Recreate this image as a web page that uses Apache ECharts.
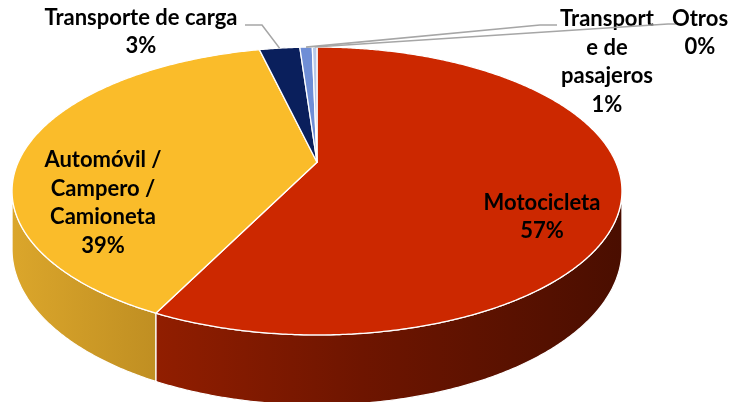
<!DOCTYPE html>
<html><head><meta charset="utf-8">
<script src="https://cdn.jsdelivr.net/npm/echarts@6/dist/echarts.min.js"></script>
<style>html,body{margin:0;padding:0;background:#fff}#c{width:734px;height:402px}</style>
</head><body><div id="c"></div>
<script>
// ---- data ----
const categories = ['Motocicleta', 'Automóvil / Campero / Camioneta', 'Transporte de carga', 'Transporte de pasajeros', 'Otros'];
const labelTexts = ['Motocicleta', 'Automóvil /\nCampero /\nCamioneta', 'Transporte de carga', 'Transport\ne de\npasajeros', 'Otros'];
const values = [57.3, 39.0, 2.6, 0.8, 0.3];

// ---- style / layout ----
const topColors = ['#CC2800', '#FABC2A', '#0A1F5C', '#6F8ED6', '#B7C8E8'];
const sideColors = [
  [[0, '#921E00'], [0.45, '#6E1500'], [1, '#4A0E00']],
  [[0, '#DBA62B'], [1, '#BF8E22']],
  [[0, '#081848'], [1, '#081848']],
  [[0, '#56709F'], [1, '#56709F']],
  [[0, '#8FA0BF'], [1, '#8FA0BF']]
];
const sideGrad = [[150, 622], [12, 160], [0, 734], [0, 734], [0, 734]];
// perspective ellipse: centre, radii, perspective factor k, wall height h
const G = { cx: 317, cy: 162.2, rx: 298.8, ry: 138.2, k: 0.2, h: 56 };
const FONT = 'Lato, "Open Sans", sans-serif';
const labelLayout = [
  { x: 542, y: 217, inside: true },
  { x: 103, y: 203, inside: true },
  { x: 141, y: 32, elbow: [[262, 25], [245, 25]] },
  { x: 607, y: 62, elbow: [[540, 25], [557, 25]] },
  { x: 700, y: 33, elbow: [[668, 24], [676, 24]] }
];

const total = values.reduce((a, b) => a + b, 0);
const starts = []; let acc = 0;
values.forEach(v => { starts.push(acc / total * Math.PI * 2); acc += v; });
const ends = values.map((v, i) => starts[i] + v / total * Math.PI * 2);
const pct = values.map(v => Math.round(v / total * 100) + '%');

function pt(t, down) {
  const u = Math.sin(t), v = Math.cos(t), s = 1 / (1 + G.k * v);
  return [G.cx + G.rx * u * s, G.cy - G.ry * v * s + (down ? G.h * s : 0)];
}
function arc(a0, a1, down) {
  const n = Math.max(2, Math.ceil(Math.abs(a1 - a0) / 0.008));
  const out = [];
  for (let k = 0; k <= n; k++) out.push(pt(a0 + (a1 - a0) * k / n, down));
  return out;
}
const silA = Math.acos(-G.k), silB = Math.PI * 2 - silA;

const chart = echarts.init(document.getElementById('c'), null, { renderer: 'canvas' });
const dataIdx = values.map((v, i) => ({ name: categories[i], value: v }));

function sideItem(params) {
  const i = params.dataIndex;
  const s = Math.max(starts[i], silA), e = Math.min(ends[i], silB);
  if (e <= s) return null;
  const top = arc(s, e, false), bot = arc(e, s, true);
  return {
    type: 'polygon', shape: { points: top.concat(bot) },
    style: {
      fill: { type: 'linear', x: sideGrad[i][0], y: 0, x2: sideGrad[i][1], y2: 0, global: true,
        colorStops: sideColors[i].map(c => ({ offset: c[0], color: c[1] })) },
      stroke: '#ffffff', lineWidth: 1.2
    }
  };
}
function topItem(params) {
  const i = params.dataIndex;
  const pts = [[G.cx, G.cy]].concat(arc(starts[i], ends[i], false));
  return {
    type: 'polygon', shape: { points: pts },
    style: { fill: topColors[i], stroke: '#ffffff', lineWidth: 1.3, lineJoin: 'round' }
  };
}
function labelItem(params) {
  const i = params.dataIndex;
  const L = labelLayout[i];
  const children = [];
  if (!L.inside) {
    const m = (starts[i] + ends[i]) / 2;
    children.push({ type: 'polyline', shape: { points: [pt(m, false)].concat(L.elbow) },
      style: { stroke: '#A6A6A6', lineWidth: 1.6, fill: null } });
  }
  children.push({
    type: 'text', x: L.x, y: L.y,
    style: { text: labelTexts[i] + '\n' + pct[i], fill: '#000', fontFamily: FONT, fontWeight: 'bold',
      fontSize: 22, lineHeight: 28.5, align: 'center', verticalAlign: 'middle' }
  });
  return { type: 'group', children };
}

chart.setOption({
  animation: false,
  series: [
    { type: 'custom', coordinateSystem: 'none', z: 1, data: dataIdx, renderItem: sideItem },
    { type: 'custom', coordinateSystem: 'none', z: 2, data: dataIdx, renderItem: topItem },
    { type: 'custom', coordinateSystem: 'none', z: 3, data: dataIdx, renderItem: labelItem }
  ]
});
</script></body></html>
